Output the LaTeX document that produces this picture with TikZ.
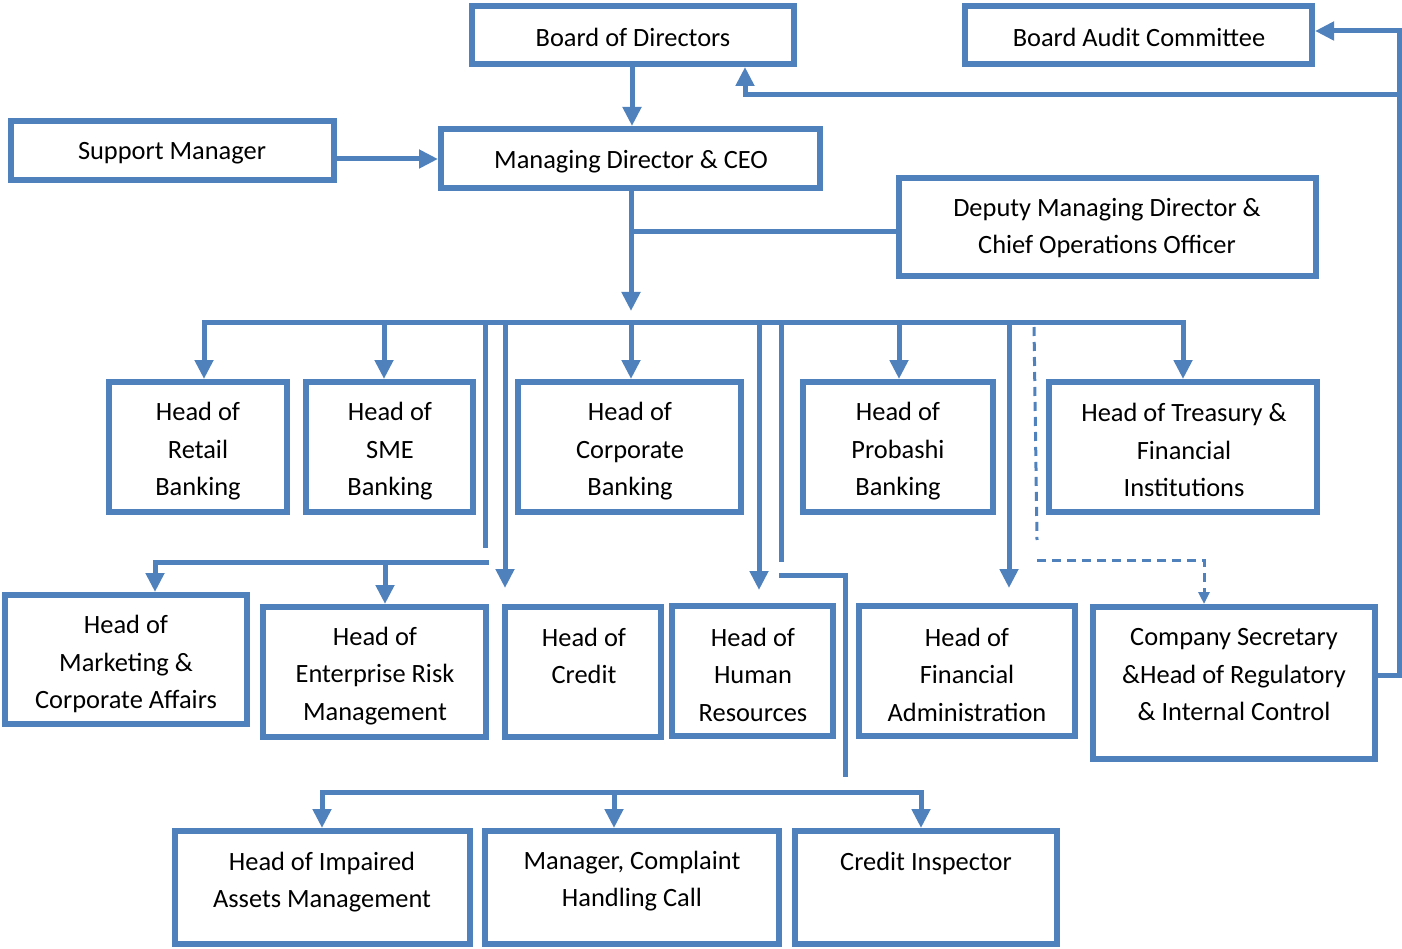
\documentclass[tikz,border=0pt]{standalone}
\usepackage{fontspec}
\setmainfont{Carlito}
\usetikzlibrary{arrows.meta}
\definecolor{ob}{HTML}{4F81BD}
\begin{document}
\begin{tikzpicture}[x=1pt,y=-1pt,
  box/.style={draw=ob,line width=6pt,inner sep=0pt,fill=white},
  txt/.style={align=center,inner sep=0pt,font=\fontsize{26.4}{37.5}\selectfont},
  conn/.style={draw=ob,line width=5pt},
  arr/.style={conn,-{Triangle[length=19pt,width=18pt]}},
  darr/.style={draw=ob,line width=3pt,dash pattern=on 9pt off 6pt,-{Triangle[length=12pt,width=11pt]}},
  dline/.style={draw=ob,line width=3pt,dash pattern=on 9pt off 6pt}]
\useasboundingbox (0,0) rectangle (1402,949);
% boxes
\node[box,minimum width=322pt,minimum height=58pt] (bod) at (633,35) {};
\node[box,minimum width=347pt,minimum height=58pt] (bac) at (1138.5,35) {};
\node[box,minimum width=323pt,minimum height=59pt] (sup) at (172.5,150.5) {};
\node[box,minimum width=379pt,minimum height=59pt] (md) at (630.5,158.5) {};
\node[box,minimum width=417pt,minimum height=98pt] (dmd) at (1107.5,227) {};
\node[box,minimum width=178pt,minimum height=130pt] (ret) at (198,447) {};
\node[box,minimum width=167pt,minimum height=130pt] (sme) at (389.5,447) {};
\node[box,minimum width=223pt,minimum height=130pt] (cor) at (629.5,447) {};
\node[box,minimum width=190pt,minimum height=130pt] (pro) at (898,447) {};
\node[box,minimum width=268pt,minimum height=130pt] (tre) at (1183,447) {};
\node[box,minimum width=242pt,minimum height=129pt] (mkt) at (126,659.5) {};
\node[box,minimum width=223pt,minimum height=130pt] (erm) at (374.5,672) {};
\node[box,minimum width=156pt,minimum height=130pt] (cre) at (583,672) {};
\node[box,minimum width=161pt,minimum height=130pt] (hr) at (752.5,671) {};
\node[box,minimum width=216pt,minimum height=130pt] (fin) at (967,671) {};
\node[box,minimum width=282pt,minimum height=152pt] (cs) at (1234,683) {};
\node[box,minimum width=295pt,minimum height=113pt] (imp) at (322.5,887.5) {};
\node[box,minimum width=294pt,minimum height=113pt] (cmp) at (632,887.5) {};
\node[box,minimum width=262pt,minimum height=113pt] (ci) at (926,887.5) {};
% texts
\node[txt] (tbod) at (633,37) {Board of Directors};
\node[txt] (tbac) at (1139,37) {Board Audit Committee};
\node[txt] (tsup) at (172,153) {Support Manager};
\node[txt] (tmd) at (631,162) {Managing Director \& CEO};
\node[txt] (tdmd) at (1107,228) {Deputy Managing Director \&\\Chief Operations Officer};
\node[txt] (tret) at (198,451.5) {Head of\\Retail\\Banking};
\node[txt] (tsme) at (390,451.5) {Head of\\SME\\Banking};
\node[txt] (tcor) at (630,451.5) {Head of\\Corporate\\Banking};
\node[txt] (tpro) at (898,451.5) {Head of\\Probashi\\Banking};
\node[txt] (ttre) at (1184,450) {Head of Treasury \&\\Financial\\Institutions};
\node[txt] (tmkt) at (126,664) {Head of\\Marketing \&\\Corporate Affairs};
\node[txt] (term) at (375,676) {Head of\\Enterprise Risk\\Management};
\node[txt] (tcre) at (584,656) {Head of\\Credit};
\node[txt] (thr) at (753,674.5) {Head of\\Human\\Resources};
\node[txt] (tfin) at (967,674.5) {Head of\\Financial\\Administration};
\node[txt] (tcs) at (1234,675) {Company Secretary\\\&Head of Regulatory\\\& Internal Control};
\node[txt] (timp) at (322,882) {Head of Impaired\\Assets Management};
\node[txt] (tcmp) at (632,881) {Manager, Complaint\\Handling Call};
\node[txt] (tci) at (926,863) {Credit Inspector};
% top connectors
\draw[arr] (bod.south -| 632,0) -- (md.north -| 632,0);
\draw[arr] (sup.east |- 0,159) -- (md.west |- 0,159);
\coordinate (mdtip) at (631,311);
\draw[arr] (md.south -| mdtip) -- (mdtip);
\coordinate (dj) at (631,232);
\draw[conn] (dj) -- (dj -| dmd.west);
% main bus
\coordinate (bL) at (204,323);
\coordinate (bR) at (1183,323);
\draw[arr] (bR) -- (bL) -- (bL |- ret.north);
\draw[arr] (bL) -- (bR) -- (bR |- tre.north);
\coordinate (bS) at (384,323);
\draw[arr] (bS) -- (bS |- sme.north);
\coordinate (bC) at (631,323);
\draw[arr] (bC) -- (bC |- cor.north);
\coordinate (bP) at (899,323);
\draw[arr] (bP) -- (bP |- pro.north);
% long drops
\draw[conn] (485,323) -- (485,548);
\coordinate (vcre) at (505,588);
\draw[arr] (vcre |- bL) -- (vcre);
\coordinate (vhr) at (759,590);
\draw[arr] (vhr |- bL) -- (vhr);
\draw[conn] (781,323) -- (781,562);
\coordinate (vfin) at (1009,588);
\draw[arr] (vfin |- bL) -- (vfin);
% marketing / ERM branch
\coordinate (h1R) at (489,562);
\coordinate (h1L) at (155,562);
\coordinate (h1E) at (385,562);
\draw[arr] (h1R) -- (h1L) -- (h1L |- mkt.north);
\draw[arr] (h1E) -- (h1E |- erm.north);
% lower branch
\draw[conn] (779,575) -- (845,575) -- (845,777);
\coordinate (h2L) at (322,792);
\coordinate (h2R) at (921,792);
\coordinate (h2M) at (614,792);
\draw[arr] (h2R) -- (h2L) -- (h2L |- imp.north);
\draw[arr] (h2L) -- (h2R) -- (h2R |- ci.north);
\draw[arr] (h2M) -- (h2M |- cmp.north);
% dashed
\draw[dline] (1034,327) -- (1037,540);
\coordinate (dR) at (1204,560);
\draw[darr] (1037,560) -- (dR) -- (dR |- cs.north);
% right side feedback
\coordinate (rr) at (1399,675);
\coordinate (rt) at (1399,31);
\draw[arr] (cs.east |- rr) -- (rr) -- (rt) -- (rt -| bac.east);
\coordinate (rm) at (1399,95);
\coordinate (bm) at (745,95);
\draw[arr] (rm) -- (bm) -- (bm |- bod.south);
\end{tikzpicture}
\end{document}
